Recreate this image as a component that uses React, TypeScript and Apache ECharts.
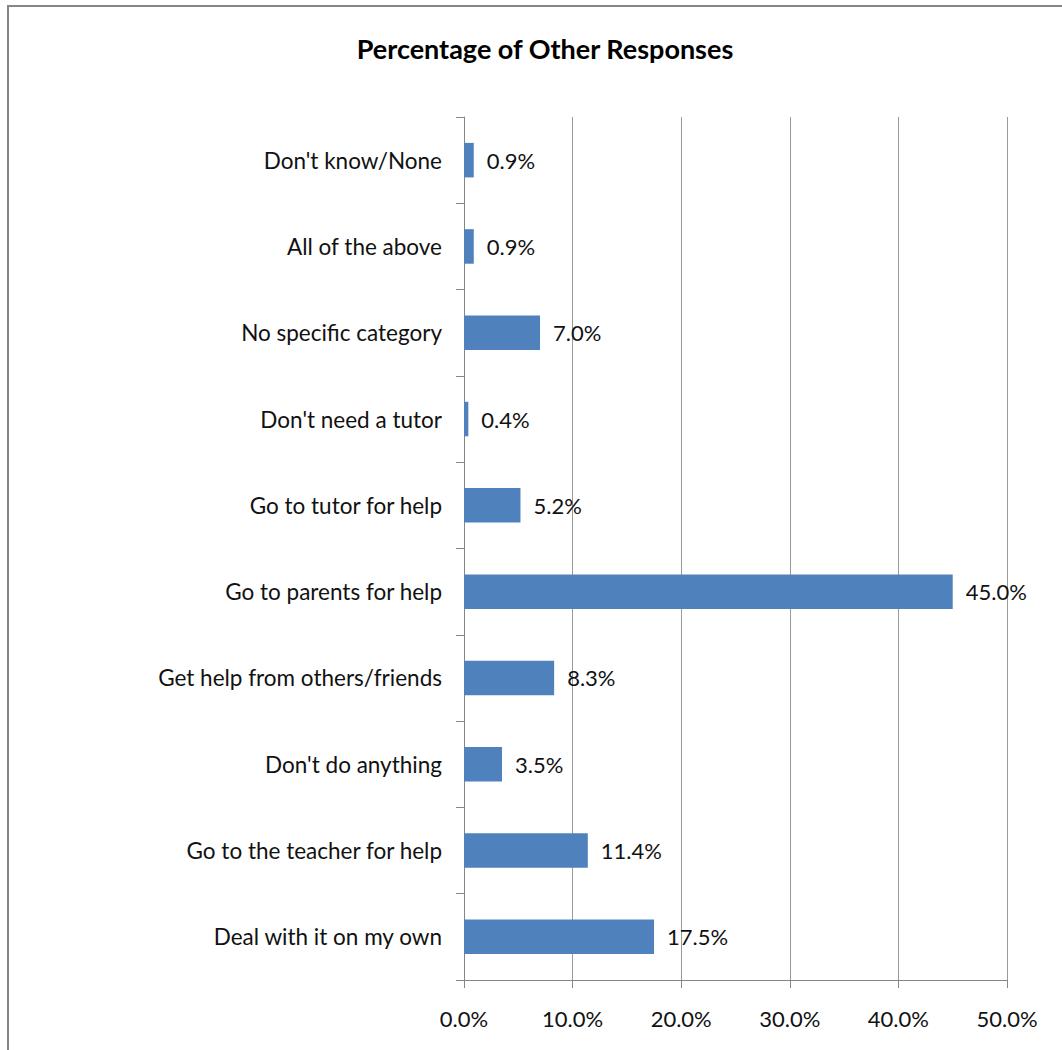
import React, { useEffect, useRef } from "react";
import * as echarts from "echarts";

const categories = [
  "Don't know/None",
  "All of the above",
  "No specific category",
  "Don't need a tutor",
  "Go to tutor for help",
  "Go to parents for help",
  "Get help from others/friends",
  "Don't do anything",
  "Go to the teacher for help",
  "Deal with it on my own",
];
const values = [0.9, 0.9, 7.0, 0.4, 5.2, 45.0, 8.3, 3.5, 11.4, 17.5];
const xTicks = [0, 10, 20, 30, 40, 50];

const FONT = "Lato, 'Open Sans', sans-serif";

export default function App() {
  const ref = useRef<HTMLDivElement>(null);
  useEffect(() => {
    if (!ref.current) return;
    const chart = echarts.init(ref.current, undefined, { renderer: "svg" });
    chart.setOption({
      animation: false,
      backgroundColor: "#ffffff",
      title: {
        text: "Percentage of Other Responses",
        left: 540,
        top: 30,
        textAlign: "center",
        textStyle: { fontFamily: FONT, fontSize: 27, fontWeight: "bold", color: "#000" },
      },
      graphic: [
        {
          type: "rect",
          shape: { x: 8, y: 6, width: 1200, height: 1200 },
          style: { fill: "none", stroke: "#868686", lineWidth: 2 },
          silent: true,
        },
      ],
      grid: { left: 464, right: 55, top: 117, bottom: 70, containLabel: false },
      xAxis: {
        type: "value",
        min: xTicks[0],
        max: xTicks[xTicks.length - 1],
        interval: 10,
        axisLine: { show: true, lineStyle: { color: "#868686", width: 1 } },
        axisTick: { show: true, length: 8, lineStyle: { color: "#868686" } },
        splitLine: { show: true, lineStyle: { color: "#9a9a9a", width: 1 } },
        axisLabel: {
          margin: 27,
          fontFamily: FONT,
          fontSize: 22,
          color: "#111",
          formatter: (v: number) => v.toFixed(1) + "%",
        },
      },
      yAxis: {
        type: "category",
        inverse: true,
        data: categories,
        axisLine: { show: true, lineStyle: { color: "#868686", width: 1 } },
        axisTick: { show: true, length: 8, lineStyle: { color: "#868686" } },
        axisLabel: { margin: 22, fontFamily: FONT, fontSize: 22.5, color: "#111" },
        splitLine: { show: false },
      },
      series: [
        {
          type: "bar",
          data: values,
          barWidth: "40%",
          itemStyle: { color: "#4F81BD" },
          label: {
            show: true,
            position: "right",
            distance: 13,
            fontFamily: FONT,
            fontSize: 22,
            color: "#111",
            formatter: (p: any) => Number(p.value).toFixed(1) + "%",
          },
        },
      ],
    });
    return () => chart.dispose();
  }, []);
  return (
    <div
      ref={ref}
      style={{ position: "absolute", left: 0, top: 0, width: 1062, height: 1050 }}
    />
  );
}
